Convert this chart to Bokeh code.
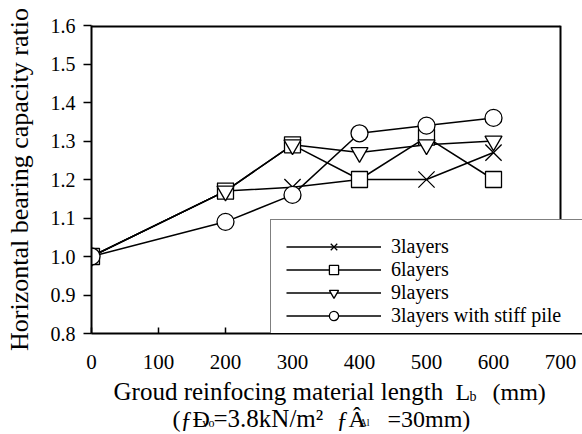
from bokeh.plotting import figure
from bokeh.layouts import column
from bokeh.models import (Legend, LegendItem, FixedTicker, PrintfTickFormatter, Span,
                          Range1d, ColumnDataSource)
from bokeh.core.properties import value
from bokeh.embed import file_html
from bokeh.resources import INLINE

# Data
lengths = [0, 200, 300, 400, 500, 600]
layers3 = [1.00, 1.17, 1.18, 1.20, 1.20, 1.27]
layers6 = [1.00, 1.17, 1.29, 1.20, 1.31, 1.20]
layers9 = [1.00, 1.17, 1.29, 1.27, 1.29, 1.30]
stiff3 = [1.00, 1.09, 1.16, 1.32, 1.34, 1.36]
x_ticks = [0, 100, 200, 300, 400, 500, 600, 700]
y_ticks = [0.8, 0.9, 1.0, 1.1, 1.2, 1.3, 1.4, 1.5, 1.6]
series_names = ["3layers", "6layers", "9layers", "3layers with stiff pile"]

FONT = "Liberation Serif"

# plot frame: x 0..700 spans 469 px; frame extends 22 px beyond 700 to the window edge
x_end = x_ticks[-1] * (469 + 22) / 469

p = figure(width=582, height=376, x_range=(0, x_end), y_range=(y_ticks[0], y_ticks[-1]),
           output_backend="svg", toolbar_location=None,
           min_border_left=91, min_border_top=25, min_border_right=0, min_border_bottom=43)
p.grid.visible = False
p.background_fill_color = "white"
p.border_fill_color = "white"
p.outline_line_color = None

p.xaxis.ticker = FixedTicker(ticks=x_ticks)
p.yaxis.ticker = FixedTicker(ticks=y_ticks)
p.yaxis.formatter = PrintfTickFormatter(format="%.1f")
for ax in (p.xaxis, p.yaxis):
    ax.axis_line_width = 2
    ax.axis_line_color = "black"
    ax.major_tick_line_color = "black"
    ax.major_tick_line_width = 1.5
    ax.minor_tick_line_color = None
    ax.major_label_text_font = FONT
    ax.major_label_text_color = "black"
p.xaxis.major_tick_in = 6
p.xaxis.major_tick_out = 0
p.xaxis.major_label_text_font_size = "21px"
p.xaxis.major_label_standoff = 21
p.yaxis.major_tick_in = 0
p.yaxis.major_tick_out = 8
p.yaxis.major_label_text_font_size = "20px"
p.yaxis.major_label_standoff = 8
p.yaxis.axis_label = "Horizontal bearing capacity ratio"
p.yaxis.axis_label_text_font = FONT
p.yaxis.axis_label_text_font_style = "normal"
p.yaxis.axis_label_text_font_size = "26px"
p.yaxis.axis_label_text_color = "black"
p.yaxis.axis_label_standoff = 14

# frame borders: right edge at x=700, top edge up to x=700
p.add_layout(Span(location=x_ticks[-1], dimension="height", line_color="black", line_width=2))
p.line([x_ticks[0], x_ticks[-1]], [y_ticks[-1], y_ticks[-1]], line_color="black", line_width=4)

lw = 1.5
l3 = p.line(lengths, layers3, line_color="black", line_width=lw)
l6 = p.line(lengths, layers6, line_color="black", line_width=lw)
l9 = p.line(lengths, layers9, line_color="black", line_width=lw)
ls = p.line(lengths, stiff3, line_color="black", line_width=lw)

m3 = p.scatter(lengths, layers3, marker="x", size=23, line_color="black", line_width=1.3)
m6 = p.scatter(lengths, layers6, marker="square", size=16, line_color="black",
               fill_color="white", line_width=1.3)
m9 = p.scatter(lengths, layers9, marker="inverted_triangle", size=17, line_color="black",
               fill_color="white", line_width=1.3)
ms = p.scatter(lengths, stiff3, marker="circle", size=17, line_color="black",
               fill_color="white", line_width=1.3)

legend = Legend(items=[
    LegendItem(label=series_names[0], renderers=[l3, m3]),
    LegendItem(label=series_names[1], renderers=[l6, m6]),
    LegendItem(label=series_names[2], renderers=[l9, m9]),
    LegendItem(label=series_names[3], renderers=[ls, ms]),
], location=(179, -10))
legend.label_text_font = FONT
legend.label_text_font_size = "20px"
legend.label_text_color = "black"
legend.label_height = 23
legend.label_width = 200
legend.glyph_height = 23
legend.glyph_width = 95
legend.spacing = 0
legend.padding = 15
legend.margin = 0
legend.label_standoff = 10
legend.border_line_color = "black"
legend.border_line_width = 1.5
legend.background_fill_color = "white"
legend.background_fill_alpha = 1.0
p.add_layout(legend)

# x-axis title block (two lines with small sub-texts), in page pixel coordinates
title_parts = ["Groud reinfocing material length", "L", "b", "(mm)",
               "(ƒÐ", "vo", "=3.8kN/m²", "ƒÂ", "Al", "=30mm)"]
title_x = [113, 455, 469, 492, 172, 202, 213, 336, 359, 387]
title_y = [43, 43, 38, 43, 16, 12, 16, 16, 12, 16]
title_size = ["25px", "24px", "14px", "24px", "24px", "12px", "25px", "24px", "10px", "24px"]

# the column layout aligns this frame with the main frame (page x 91 .. 582)
p2 = figure(width=582, height=58, x_range=Range1d(91, 582), y_range=Range1d(0, 58),
            output_backend="svg", toolbar_location=None, min_border=0)
p2.axis.visible = False
p2.grid.visible = False
p2.outline_line_color = None
p2.background_fill_color = "white"
p2.border_fill_color = "white"
src = ColumnDataSource(dict(x=title_x, y=title_y, t=title_parts, s=title_size))
p2.text(x="x", y="y", text="t", text_font_size="s", source=src, text_font=value(FONT),
        text_align="left", text_baseline="middle", text_color="black")

layout = column(p, p2, spacing=0)
open("out.html", "w").write(file_html(layout, INLINE))
